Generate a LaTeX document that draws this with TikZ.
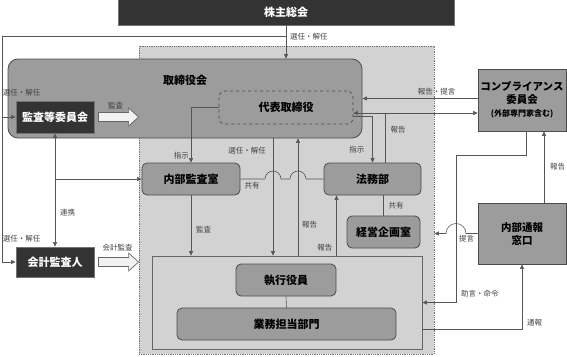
\documentclass[tikz,border=0pt]{standalone}
\usepackage{fontspec}
\setmainfont{Noto Sans CJK JP}
\usetikzlibrary{positioning,arrows.meta,calc}
\definecolor{inkdark}{HTML}{333333}
\definecolor{boxgray}{HTML}{9C9C9C}
\definecolor{zonegray}{HTML}{D2D2D2}
\definecolor{linegray}{HTML}{555555}

\begin{document}
\begin{tikzpicture}[x=1pt, y=-1pt,
    >={Triangle[length=4.5pt, width=4pt]},
    dark/.style   ={draw=black!55, line width=0.8pt, fill=inkdark, text=white, inner sep=0pt, font=\fontsize{11}{13}\selectfont\bfseries},
    unit/.style   ={draw=black!70, line width=0.8pt, fill=boxgray, rounded corners=5pt, inner sep=0pt, font=\fontsize{11}{13}\selectfont\bfseries},
    side/.style   ={draw=black!70, line width=0.8pt, fill=boxgray, align=center, inner sep=0pt, font=\fontsize{10.5}{13}\selectfont\bfseries},
    conn/.style   ={draw=linegray, line width=0.6pt},
    lbl/.style    ={font=\fontsize{7.5}{8}\selectfont, text=black!75, inner sep=1pt},
    hollow/.style ={draw=black!60, line width=0.7pt, fill=black!5, line join=miter},
  ]
  \useasboundingbox (0,0) rectangle (567,356);

  % top and left side
  \node[dark, minimum width=336pt, minimum height=26pt] (gms) at (286,12) {株主総会};
  \node[draw=black!55, densely dotted, line width=0.8pt, fill=zonegray, minimum width=295pt, minimum height=308pt] (zone) at (286.5,200) {};
  \node[draw=black!70, line width=0.8pt, fill=boxgray, rounded corners=10pt, minimum width=354pt, minimum height=79pt] (board) at (185,98.5) {};
  \node[anchor=west, font=\fontsize{11}{13}\selectfont\bfseries] (boardlbl) at ($(board.north west)+(152,22)$) {取締役会};
  \node[draw=black!70, line width=0.7pt, dashed, rounded corners=6pt, minimum width=134pt, minimum height=33pt, font=\fontsize{11}{13}\selectfont\bfseries] (ceo) at (286,107.5) {代表取締役};
  \node[dark, minimum width=78pt, minimum height=32pt] (acb) at (55,117) {監査等委員会};
  \node[dark, minimum width=78pt, minimum height=30pt] (auditor) at (55,262) {会計監査人};

  % inside the zone
  \node[unit, minimum width=98pt, minimum height=32pt] (ia) at (191,179) {内部監査室};
  \node[unit, minimum width=97pt, minimum height=32pt] (legal) at (372.5,179) {法務部};
  \node[unit, minimum width=73pt, minimum height=32pt] (plan) at (383.5,232) {経営企画室};
  \node[draw=black!60, line width=0.8pt, fill=zonegray, minimum width=270pt, minimum height=93pt] (exec) at (287,302.5) {};
  \node[unit, minimum width=100pt, minimum height=32pt] (officer) at (286,280) {執行役員};
  \node[unit, minimum width=219pt, minimum height=32pt] (dept) at (286.5,324) {業務担当部門};

  % right side
  \node[side, minimum width=88pt, minimum height=62pt] (comp) at (522,100) {コンプライアンス\\委員会\\{\fontsize{8}{10}\selectfont (外部専門家含む)}};
  \node[side, minimum width=88pt, minimum height=61pt] (hotline) at (522,233.5) {内部通報\\窓口};

  % hollow arrows
  \coordinate (ha) at (acb.east -| zone.west);
  \draw[hollow] ($(acb.east)+(4,-4.5)$) -- ($(ha)+(-10,-4.5)$) -- ($(ha)+(-10,-9)$) -- (ha)
    -- ($(ha)+(-10,9)$) -- ($(ha)+(-10,4.5)$) -- ($(acb.east)+(4,4.5)$) -- cycle;
  \node[lbl] (audlbl) at ($(ha)+(-23,-11)$) {監査};
  \coordinate (hb) at (auditor.east -| zone.west);
  \draw[hollow] ($(auditor.east)+(4,-4.5)$) -- ($(hb)+(-10,-4.5)$) -- ($(hb)+(-10,-9)$) -- (hb)
    -- ($(hb)+(-10,9)$) -- ($(hb)+(-10,4.5)$) -- ($(auditor.east)+(4,4.5)$) -- cycle;
  \node[lbl] (acclbl) at ($(hb)+(-21,-14)$) {会計監査};

  % election lines
  \coordinate (split) at ($(gms.south)+(0,11)$);
  \coordinate (lft) at (2,0);
  \draw[conn,->] (gms.south) -- (gms.south |- board.north);
  \draw[conn] (split) -- (lft |- split) -- (lft |- auditor.west);
  \draw[conn,->] (lft |- acb.west) -- (acb.west);
  \draw[conn,->] (lft |- auditor.west) -- (auditor.west);
  \node[lbl, anchor=west] (sel1) at ($(split)+(3,0)$) {選任・解任};
  \node[lbl, anchor=south west] (sel2) at ($(acb.north west)+(-14,-3)$) {選任・解任};
  \node[lbl, anchor=south west] (sel3) at ($(auditor.north west)+(-14,-3)$) {選任・解任};

  % cooperation
  \draw[conn,<->] (acb.south) -- (auditor.north);
  \draw[conn,->] (acb.south |- ia.west) -- (ia.west);
  \node[lbl, anchor=west] (coop) at ($(acb.south)+(4,79)$) {連携};

  % instructions and audit
  \draw[conn,->] (ceo.west) -| (ia.north);
  \node[lbl, anchor=east] (ord1) at ($(ia.north)+(-1,-7)$) {指示};
  \draw[conn,->] (ia.south) -- (ia.south |- exec.north);
  \node[lbl, anchor=west] (aud2) at ($(ia.south)+(4,34)$) {監査};
  \coordinate (cl) at ($(ceo.east)+(0,5.5)$);
  \draw[conn,->] ($(ceo.south east)+(0,-8)$) -| (legal.north);
  \node[lbl, anchor=east] (ord2) at ($(legal.north)+(-7,-13)$) {指示};
  \draw[conn,<->] (cl) -- (cl -| comp.west);
  \coordinate (lr) at ($(legal.north)+(13,0)$);
  \draw[conn] (lr) -- (lr |- cl);
  \node[lbl, anchor=west] (rep1) at ($(lr)+(4,-33)$) {報告};
  \draw[conn,->] (comp.west |- board.east) -- (board.east);
  \node[lbl, anchor=south] (rep2) at ($(comp.west |- board.east)+(-41,-2)$) {報告・提言};

  % board <-> executives, with hops over the sharing line
  \coordinate (sel) at (273,0);
  \coordinate (rep) at (298,0);
  \draw[conn,->] (sel |- board.south) -- (sel |- exec.north);
  \node[lbl, anchor=east] (sel4) at ($(sel |- board.south)+(-6,12)$) {選任・解任};
  \draw[conn,->] (rep |- exec.north) -- (rep |- board.south);
  \node[lbl, anchor=west] (rep3) at ($(rep |- exec.north)+(3,-31)$) {報告};
  \draw[conn] (ia.east) -- ($(sel |- ia.east)+(-8,0)$) arc[start angle=180, end angle=0, radius=8pt]
    -- ($(rep |- ia.east)+(-8,0)$) arc[start angle=180, end angle=0, radius=8pt] -- (legal.west);
  \node[lbl, anchor=north west] (share1) at ($(ia.east)+(3,2)$) {共有};
  \draw[conn] (plan.north) -- (plan.north |- legal.south);
  \node[lbl, anchor=west] (share2) at ($(plan.north)+(4,-10)$) {共有};
  \draw[conn] (officer.south) -- (dept.north);
  \coordinate (er) at ($(legal.south)+(-36,0)$);
  \draw[conn,->] (er |- exec.north) -- (er);
  \node[lbl, anchor=east] (rep4) at ($(er |- exec.north)+(-3,-8)$) {報告};

  % whistle-blowing channel
  \coordinate (hr) at ($(hotline.north)+(22,0)$);
  \draw[conn,->] (hr) -- (hr |- comp.south);
  \node[lbl, anchor=west] (rep5) at ($(hr)+(5,-36)$) {報告};
  \coordinate (cs) at ($(comp.south)+(4,0)$);
  \coordinate (bend) at (456,155);
  \draw[conn,->] (cs) |- (bend) |- (exec.east);
  \node[lbl, anchor=west] (adv) at ($(bend |- exec.east)+(4,-9)$) {助言・命令};
  \draw[conn,->] (hotline.west) -- ($(bend |- hotline.west)+(10,0)$) arc[start angle=0, end angle=180, radius=10pt] -- (zone.east |- hotline.west);
  \node[lbl, anchor=north west] (prop) at ($(bend |- hotline.west)+(2,1)$) {提言};
  \draw[conn,->] ($(exec.south east)+(0,-20)$) -| (hotline.south);
  \node[lbl, anchor=west] (tip) at ($(hotline.south)+(4,58)$) {通報};
\end{tikzpicture}
\end{document}
